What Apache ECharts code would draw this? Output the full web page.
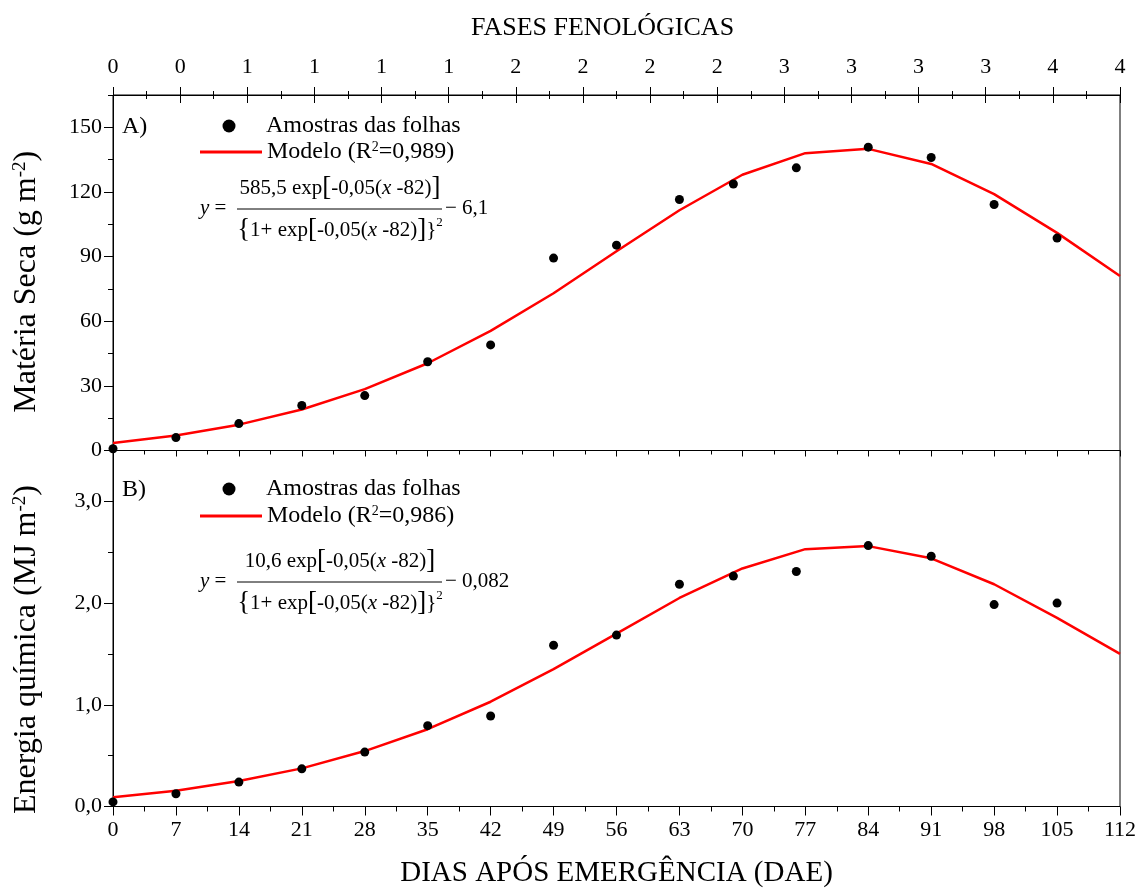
<!DOCTYPE html>
<html>
<head>
<meta charset="utf-8">
<script src="https://cdn.jsdelivr.net/npm/echarts@6/dist/echarts.min.js"></script>
<style>
html, body { margin: 0; padding: 0; background: #fff; }
#chart { width: 1142px; height: 888px; }
</style>
</head>
<body>
<div id="chart"></div>
<script>
// dias das amostras
const dias = [0, 7, 14, 21, 28, 35, 42, 49, 56, 63, 69, 76, 84, 91, 98, 105];
const materiaSeca = [0.8, 6, 12.5, 20.9, 25.5, 41.2, 49, 89.3, 95.3, 116.5, 123.7, 131.2, 140.8, 136, 114.2, 98.6];
const energia = [0.045, 0.125, 0.24, 0.37, 0.535, 0.795, 0.89, 1.585, 1.685, 2.185, 2.265, 2.31, 2.565, 2.46, 1.985, 2.0];

// curva do modelo
const diasModelo = [0, 7, 14, 21, 28, 35, 42, 49, 56, 63, 70, 77, 84, 91, 98, 105, 112];
const modeloMS = [3.5, 7, 12, 19, 28.5, 40.5, 55.5, 73, 92.5, 111.5, 128, 138, 140, 133, 119, 101, 81];
const modeloEnergia = [0.09, 0.155, 0.25, 0.375, 0.545, 0.76, 1.03, 1.35, 1.7, 2.05, 2.34, 2.53, 2.56, 2.44, 2.185, 1.855, 1.5];

const fases = ['0', '0', '1', '1', '1', '1', '2', '2', '2', '2', '3', '3', '3', '3', '4', '4'];

const fonte = 'Liberation Serif';
const preto = '#000';

function pares(xs, ys) {
    return xs.map(function (x, i) { return [x, ys[i]]; });
}

let dom = document.getElementById('chart');
let myChart = echarts.init(dom, null, {renderer: 'canvas'});

const linha = {onZero: false, lineStyle: {color: preto, width: 1}};
const semLinha = {show: false, onZero: false};

const legendaTexto = {
    fontFamily: fonte, fontSize: 24, color: preto,
    rich: {
        t: {fontFamily: fonte, fontSize: 24, color: preto},
        s: {fontFamily: fonte, fontSize: 14, color: preto, verticalAlign: 'top'}
    }
};

function legendaPontos(top) {
    return {
        left: 222.5, top: top, padding: 0, itemWidth: 64, itemHeight: 13,
        data: [{name: 'Amostras das folhas', icon: 'circle', itemStyle: {color: preto, opacity: 1}}],
        textStyle: legendaTexto, selectedMode: false
    };
}
function legendaModelo(top, r2) {
    return {
        left: 200, top: top, padding: 0, itemWidth: 62, itemHeight: 3,
        data: [{name: 'Modelo', icon: 'rect'}],
        formatter: function () { return '{t|Modelo (R}{s|2}{t|=' + r2 + ')}'; },
        textStyle: legendaTexto, selectedMode: false
    };
}

const eqRich = {
    i: {fontFamily: fonte, fontSize: 21, fontStyle: 'italic', fill: preto},
    b: {fontFamily: fonte, fontSize: 27, fill: preto},
    s: {fontFamily: fonte, fontSize: 13, fill: preto, verticalAlign: 'top'}
};
function equacao(yc, coef, termo) {
    const f = '21px "' + fonte + '"';
    return [
        {type: 'text', style: {text: '{i|y} =', x: 200, y: yc, font: f, fill: preto, verticalAlign: 'middle', rich: eqRich}},
        {type: 'text', style: {text: coef + ' exp{b|[}-0,05({i|x} -82){b|]}', x: 340, y: yc - 20, font: f, fill: preto, align: 'center', verticalAlign: 'middle', rich: eqRich}},
        {type: 'line', shape: {x1: 237, y1: yc + 1, x2: 442, y2: yc + 1}, style: {stroke: preto, lineWidth: 1}},
        {type: 'text', style: {text: '{b|{}1+ exp{b|[}-0,05({i|x} -82){b|]}}{s|2}', x: 340, y: yc + 22, font: f, fill: preto, align: 'center', verticalAlign: 'middle', rich: eqRich}},
        {type: 'text', style: {text: '\u2212 ' + termo, x: 445, y: yc, font: f, fill: preto, verticalAlign: 'middle'}}
    ];
}

function nomeY(pad) {
    return {
        fontFamily: fonte, fontSize: 32, color: preto, padding: [0, pad, 0, 0],
        rich: {s: {fontFamily: fonte, fontSize: 19, color: preto, verticalAlign: 'top'}}
    };
}

const option = {
    backgroundColor: '#fff',
    animation: false,
    grid: [
        {left: 113, top: 95, width: 1007, height: 355.5, show: true, borderColor: preto, borderWidth: 1, outerBoundsMode: 'none', containLabel: false},
        {left: 113, top: 450.5, width: 1007, height: 356, show: true, borderColor: preto, borderWidth: 1, outerBoundsMode: 'none', containLabel: false},
        {left: 113, top: 95, width: 1007, height: 355.5, show: false, outerBoundsMode: 'none', containLabel: false}
    ],
    xAxis: [
        {   // base do painel A
            gridIndex: 0, type: 'value', position: 'bottom', min: 0, max: 112, interval: 7,
            axisLine: linha, axisLabel: {show: false}, splitLine: {show: false},
            axisTick: {length: 6, lineStyle: {color: preto}},
            minorTick: {show: true, splitNumber: 2, length: 4, lineStyle: {color: preto}}
        },
        {   // base do painel B
            gridIndex: 1, type: 'value', position: 'bottom', min: 0, max: 112, interval: 7,
            axisLine: linha, splitLine: {show: false},
            axisTick: {length: 9, lineStyle: {color: preto}},
            minorTick: {show: true, splitNumber: 2, length: 5, lineStyle: {color: preto}},
            axisLabel: {fontFamily: fonte, fontSize: 22, color: preto, margin: 13, hideOverlap: false},
            name: 'DIAS APÓS EMERGÊNCIA (DAE)', nameLocation: 'middle', nameGap: 52,
            nameTextStyle: {fontFamily: fonte, fontSize: 29, color: preto}
        },
        {   // fases fenologicas
            gridIndex: 0, type: 'value', position: 'top', min: 0, max: 15, interval: 1,
            axisLine: linha, splitLine: {show: false},
            axisTick: {length: 8, lineStyle: {color: preto}},
            minorTick: {show: true, splitNumber: 2, length: 4, lineStyle: {color: preto}},
            axisLabel: {
                fontFamily: fonte, fontSize: 22, color: preto, margin: 17, hideOverlap: false,
                formatter: function (v) { return fases[Math.round(v)]; }
            },
            name: 'FASES FENOLÓGICAS', nameLocation: 'middle', nameGap: 54,
            nameTextStyle: {fontFamily: fonte, fontSize: 26, color: preto, padding: [0, 28, 0, 0]}
        },
        {   // ticks internos das fases
            gridIndex: 2, type: 'value', position: 'top', min: 0, max: 15, interval: 1,
            axisLine: semLinha, axisLabel: {show: false}, splitLine: {show: false},
            axisTick: {inside: true, length: 8, lineStyle: {color: preto}},
            minorTick: {show: true, splitNumber: 2, length: 4, lineStyle: {color: preto}}
        }
    ],
    yAxis: [
        {
            gridIndex: 0, type: 'value', position: 'left', min: 0, max: 165, interval: 30,
            axisLine: {show: true, onZero: false, lineStyle: {color: preto, width: 1}}, splitLine: {show: false},
            axisTick: {show: true, length: 9, lineStyle: {color: preto}},
            axisLabel: {
                fontFamily: fonte, fontSize: 22, color: preto, margin: 11, showMaxLabel: false,
                formatter: function (v) { return v % 30 === 0 ? String(v) : ''; }
            },
            name: 'Matéria Seca (g m{s|-2})', nameLocation: 'middle', nameGap: 70,
            nameTextStyle: nomeY(18)
        },
        {
            gridIndex: 0, type: 'value', position: 'left', min: 0, max: 165, interval: 15,
            axisLine: semLinha, axisLabel: {show: false}, splitLine: {show: false},
            axisTick: {show: true, length: 5, lineStyle: {color: preto}}
        },
        {
            gridIndex: 1, type: 'value', position: 'left', min: 0, max: 3.5, interval: 1,
            axisLine: {show: true, onZero: false, lineStyle: {color: preto, width: 1}}, splitLine: {show: false},
            axisTick: {show: true, length: 9, lineStyle: {color: preto}},
            axisLabel: {
                fontFamily: fonte, fontSize: 22, color: preto, margin: 11, showMaxLabel: false,
                formatter: function (v) { return Number.isInteger(v) ? v.toFixed(1).replace('.', ',') : ''; }
            },
            name: 'Energia química (MJ m{s|-2})', nameLocation: 'middle', nameGap: 70,
            nameTextStyle: nomeY(42)
        },
        {
            gridIndex: 1, type: 'value', position: 'left', min: 0, max: 3.5, interval: 0.5,
            axisLine: semLinha, axisLabel: {show: false}, splitLine: {show: false},
            axisTick: {show: true, length: 5, lineStyle: {color: preto}}
        },
        {
            gridIndex: 2, type: 'value', position: 'left', min: 0, max: 165, show: false,
            axisLine: semLinha
        }
    ],
    legend: [
        legendaPontos(114),
        legendaModelo(140, '0,989'),
        legendaPontos(477),
        legendaModelo(504, '0,986')
    ],
    graphic: [
        {type: 'text', style: {text: 'A)', x: 122, y: 127, font: '24px "' + fonte + '"', fill: preto, verticalAlign: 'middle'}},
        {type: 'text', style: {text: 'B)', x: 122, y: 490, font: '24px "' + fonte + '"', fill: preto, verticalAlign: 'middle'}}
    ].concat(equacao(208, '585,5', '6,1'), equacao(581, '10,6', '0,082')),
    series: [
        {
            name: 'Modelo', type: 'line', xAxisIndex: 0, yAxisIndex: 0,
            data: pares(diasModelo, modeloMS), symbol: 'none',
            lineStyle: {color: '#ff0000', width: 2.5}, itemStyle: {color: '#ff0000'}, z: 2
        },
        {
            name: 'Amostras das folhas', type: 'scatter', xAxisIndex: 0, yAxisIndex: 0,
            data: pares(dias, materiaSeca), symbol: 'circle', symbolSize: 9,
            itemStyle: {color: preto, opacity: 1}, z: 3
        },
        {
            name: 'Modelo', type: 'line', xAxisIndex: 1, yAxisIndex: 2,
            data: pares(diasModelo, modeloEnergia), symbol: 'none',
            lineStyle: {color: '#ff0000', width: 2.5}, itemStyle: {color: '#ff0000'}, z: 2
        },
        {
            name: 'Amostras das folhas', type: 'scatter', xAxisIndex: 1, yAxisIndex: 2,
            data: pares(dias, energia), symbol: 'circle', symbolSize: 9,
            itemStyle: {color: preto, opacity: 1}, z: 3
        }
    ]
};

myChart.setOption(option, true);
</script>
</body>
</html>
